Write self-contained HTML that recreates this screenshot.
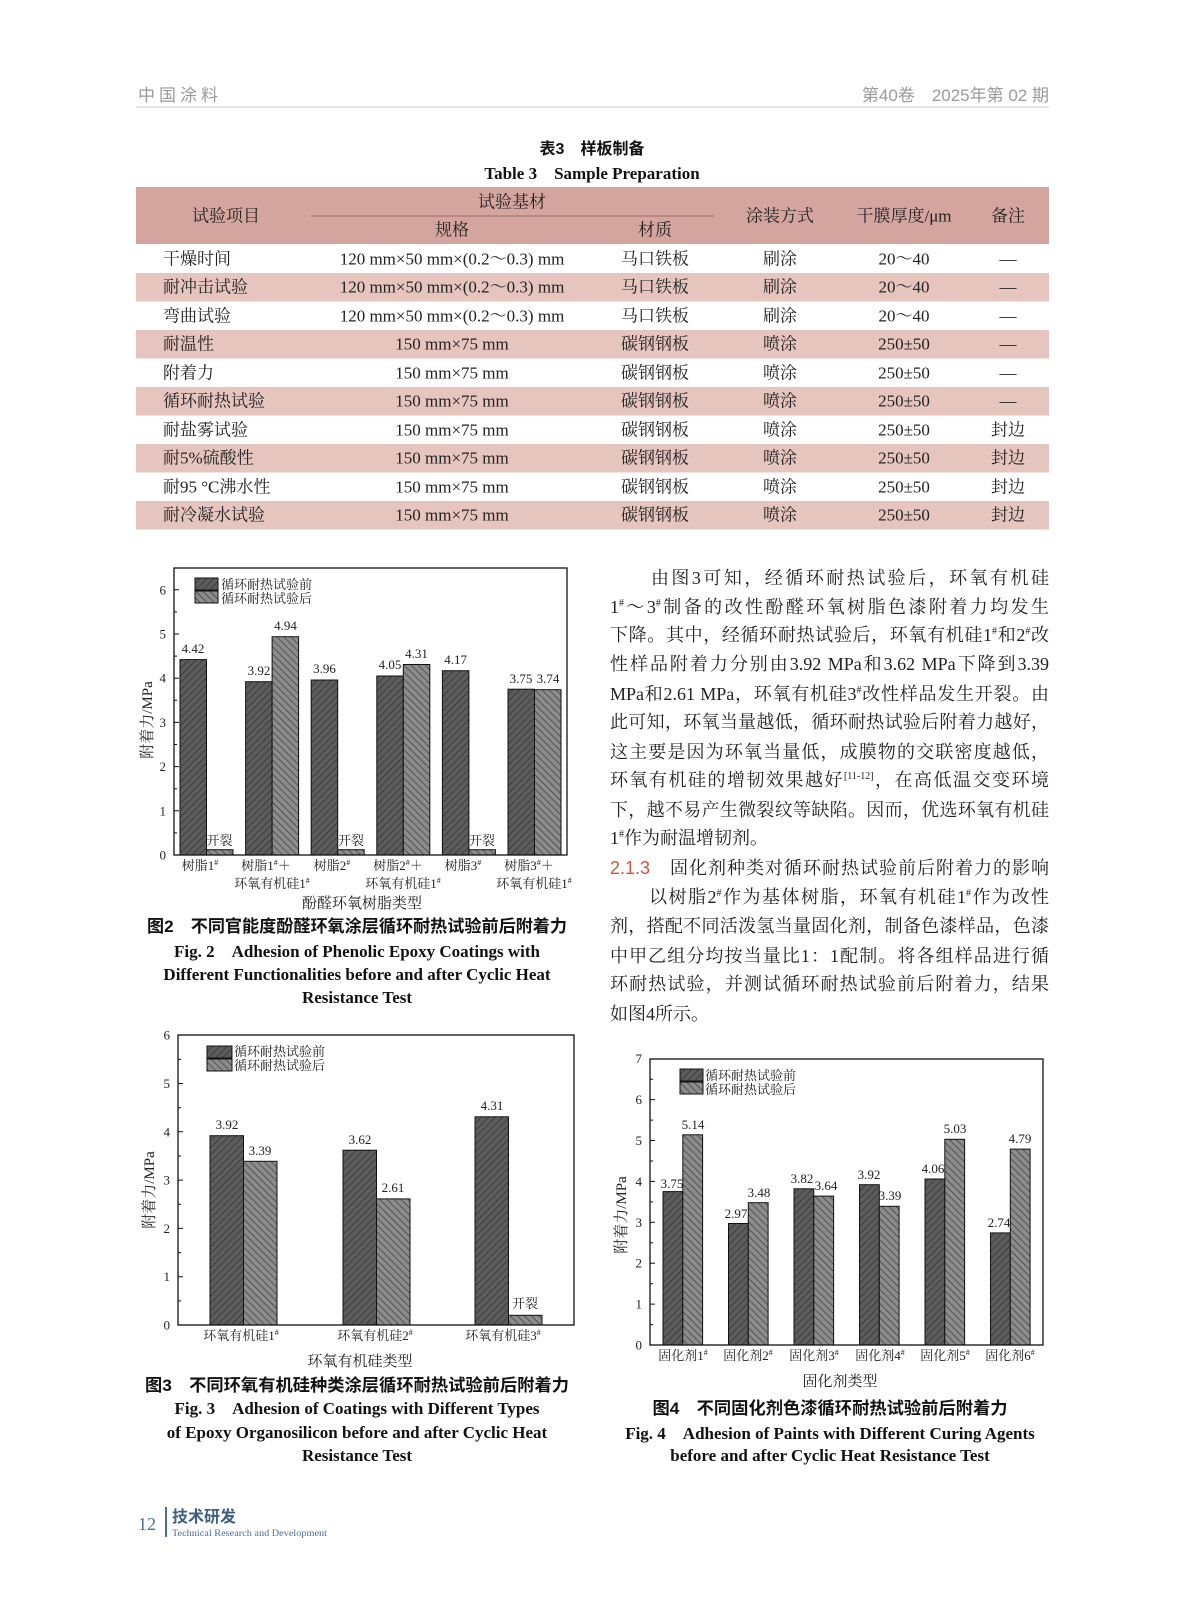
<!DOCTYPE html>
<html><head><meta charset="utf-8">
<style>
body{margin:0;background:#fff;}
#pg{position:relative;width:1187px;height:1600px;overflow:hidden;background:#fff;}
svg{position:absolute;left:0;top:0;}
.ln{position:absolute;left:610px;width:439px;height:29px;line-height:29px;font-family:"Liberation Serif","Noto Serif CJK SC",serif;font-size:18px;color:#222;text-align:justify;text-align-last:justify;white-space:nowrap;}
.ln.nj{text-align-last:left;}
.ln sup{font-size:10px;line-height:0;vertical-align:7px;}
</style></head><body><div id="pg">
<svg width="1187" height="1600" viewBox="0 0 1187 1600" font-family="Liberation Serif, Noto Serif CJK SC, serif">
<defs>
<pattern id="pb" width="5" height="5" patternUnits="userSpaceOnUse" patternTransform="rotate(45)"><rect width="5" height="5" fill="#5c5c5c"/><line x1="0" y1="0" x2="0" y2="5" stroke="#303030" stroke-width="1.4"/></pattern>
<pattern id="pa" width="5" height="5" patternUnits="userSpaceOnUse" patternTransform="rotate(-45)"><rect width="5" height="5" fill="#8c8c8c"/><line x1="0" y1="0" x2="0" y2="5" stroke="#3c3c3c" stroke-width="1.4"/></pattern>
</defs>
<!-- header -->
<text x="138" y="101" font-family="Liberation Sans, Noto Sans CJK SC, sans-serif" font-size="17" fill="#9a9a9a" letter-spacing="4">中国涂料</text>
<text x="1049" y="101" text-anchor="end" font-family="Liberation Sans, Noto Sans CJK SC, sans-serif" font-size="17" fill="#9a9a9a">第40卷　2025年第 02 期</text>
<line x1="136" y1="107" x2="1049" y2="107" stroke="#ccc" stroke-width="1"/>
<!-- table -->
<text x="592" y="154" text-anchor="middle" font-family="Liberation Sans, Noto Sans CJK SC, sans-serif" font-weight="bold" font-size="16" fill="#111">表3　样板制备</text>
<text x="592" y="179" text-anchor="middle" font-weight="bold" font-size="17" fill="#111">Table 3　Sample Preparation</text>
<rect x="136" y="187" width="913" height="57" fill="#d4a59e"/>
<rect x="136" y="273" width="913" height="28.5" fill="#e7c5bf"/>
<rect x="136" y="330" width="913" height="28.5" fill="#e7c5bf"/>
<rect x="136" y="387" width="913" height="28.5" fill="#e7c5bf"/>
<rect x="136" y="444" width="913" height="28.5" fill="#e7c5bf"/>
<rect x="136" y="501" width="913" height="28.5" fill="#e7c5bf"/>
<line x1="311" y1="216" x2="714" y2="216" stroke="#8a5a55" stroke-width="0.8"/>
<g font-size="17" fill="#222" text-anchor="middle" dominant-baseline="central">
<text x="226" y="216">试验项目</text><text x="512" y="202">试验基材</text>
<text x="452" y="230">规格</text><text x="655" y="230">材质</text>
<text x="780" y="216">涂装方式</text><text x="904" y="216">干膜厚度/μm</text><text x="1008" y="216">备注</text>
</g>
<g font-size="17" fill="#222" dominant-baseline="central">
<g text-anchor="start">
<text x="163" y="259">干燥时间</text><text x="163" y="287">耐冲击试验</text><text x="163" y="316">弯曲试验</text><text x="163" y="344">耐温性</text><text x="163" y="373">附着力</text><text x="163" y="401">循环耐热试验</text><text x="163" y="430">耐盐雾试验</text><text x="163" y="458">耐5%硫酸性</text><text x="163" y="487">耐95 °C沸水性</text><text x="163" y="515">耐冷凝水试验</text>
</g>
<g text-anchor="middle">
<text x="452" y="259">120 mm×50 mm×(0.2～0.3) mm</text><text x="452" y="287">120 mm×50 mm×(0.2～0.3) mm</text><text x="452" y="316">120 mm×50 mm×(0.2～0.3) mm</text>
<text x="452" y="344">150 mm×75 mm</text><text x="452" y="373">150 mm×75 mm</text><text x="452" y="401">150 mm×75 mm</text><text x="452" y="430">150 mm×75 mm</text><text x="452" y="458">150 mm×75 mm</text><text x="452" y="487">150 mm×75 mm</text><text x="452" y="515">150 mm×75 mm</text>
<text x="655" y="259">马口铁板</text><text x="655" y="287">马口铁板</text><text x="655" y="316">马口铁板</text><text x="655" y="344">碳钢钢板</text><text x="655" y="373">碳钢钢板</text><text x="655" y="401">碳钢钢板</text><text x="655" y="430">碳钢钢板</text><text x="655" y="458">碳钢钢板</text><text x="655" y="487">碳钢钢板</text><text x="655" y="515">碳钢钢板</text>
<text x="780" y="259">刷涂</text><text x="780" y="287">刷涂</text><text x="780" y="316">刷涂</text><text x="780" y="344">喷涂</text><text x="780" y="373">喷涂</text><text x="780" y="401">喷涂</text><text x="780" y="430">喷涂</text><text x="780" y="458">喷涂</text><text x="780" y="487">喷涂</text><text x="780" y="515">喷涂</text>
<text x="904" y="259">20～40</text><text x="904" y="287">20～40</text><text x="904" y="316">20～40</text><text x="904" y="344">250±50</text><text x="904" y="373">250±50</text><text x="904" y="401">250±50</text><text x="904" y="430">250±50</text><text x="904" y="458">250±50</text><text x="904" y="487">250±50</text><text x="904" y="515">250±50</text>
<text x="1008" y="259">—</text><text x="1008" y="287">—</text><text x="1008" y="316">—</text><text x="1008" y="344">—</text><text x="1008" y="373">—</text><text x="1008" y="401">—</text><text x="1008" y="430">封边</text><text x="1008" y="458">封边</text><text x="1008" y="487">封边</text><text x="1008" y="515">封边</text>
</g></g>

<!-- FIG 2 -->
<g stroke="#111" stroke-width="1">
<rect x="180" y="659.6" width="26.5" height="195.4" fill="url(#pb)"/><rect x="206.5" y="849.7" width="26.5" height="5.3" fill="url(#pa)"/>
<rect x="245.6" y="681.7" width="26.5" height="173.3" fill="url(#pb)"/><rect x="272.1" y="636.7" width="26.5" height="218.3" fill="url(#pa)"/>
<rect x="311.2" y="680" width="26.5" height="175" fill="url(#pb)"/><rect x="337.7" y="849.7" width="26.5" height="5.3" fill="url(#pa)"/>
<rect x="376.8" y="676" width="26.5" height="179" fill="url(#pb)"/><rect x="403.3" y="664.5" width="26.5" height="190.5" fill="url(#pa)"/>
<rect x="442.4" y="670.7" width="26.5" height="184.3" fill="url(#pb)"/><rect x="468.9" y="849.7" width="26.5" height="5.3" fill="url(#pa)"/>
<rect x="508" y="689.2" width="26.5" height="165.8" fill="url(#pb)"/><rect x="534.5" y="689.7" width="26.5" height="165.3" fill="url(#pa)"/>
<rect x="174" y="568" width="393" height="287" fill="none" stroke-width="1.3"/>
<rect x="195" y="578" width="23" height="12" fill="url(#pb)"/><rect x="195" y="591" width="23" height="12" fill="url(#pa)"/>
<path d="M174 855h5M174 810.8h5M174 766.6h5M174 722.4h5M174 678.2h5M174 634h5M174 589.8h5M174 832.9h3M174 788.7h3M174 744.5h3M174 700.3h3M174 656.1h3M174 611.9h3"/>
</g>
<g font-size="13" fill="#222" text-anchor="end" dominant-baseline="central">
<text x="166" y="855">0</text><text x="166" y="810.8">1</text><text x="166" y="766.6">2</text><text x="166" y="722.4">3</text><text x="166" y="678.2">4</text><text x="166" y="634">5</text><text x="166" y="589.8">6</text>
</g>
<g font-size="13" fill="#222" text-anchor="middle">
<text x="193" y="653">4.42</text><text x="219.5" y="845">开裂</text>
<text x="259" y="675">3.92</text><text x="285.5" y="630">4.94</text>
<text x="324.5" y="673">3.96</text><text x="351" y="845">开裂</text>
<text x="390" y="669">4.05</text><text x="416.5" y="658">4.31</text>
<text x="455.6" y="664">4.17</text><text x="482" y="845">开裂</text>
<text x="521" y="683">3.75</text><text x="548" y="683">3.74</text>
</g>
<g font-size="13" fill="#222"><text x="221" y="589">循环耐热试验前</text><text x="221" y="603">循环耐热试验后</text></g>
<g font-size="13" fill="#222" text-anchor="middle">
<text x="200" y="870">树脂1<tspan font-size="8" dy="-5">#</tspan></text>
<text x="266" y="870">树脂1<tspan font-size="8" dy="-5">#</tspan><tspan dy="5">＋</tspan></text><text x="272" y="888">环氧有机硅1<tspan font-size="8" dy="-5">#</tspan></text>
<text x="332" y="870">树脂2<tspan font-size="8" dy="-5">#</tspan></text>
<text x="398" y="870">树脂2<tspan font-size="8" dy="-5">#</tspan><tspan dy="5">＋</tspan></text><text x="403" y="888">环氧有机硅1<tspan font-size="8" dy="-5">#</tspan></text>
<text x="463" y="870">树脂3<tspan font-size="8" dy="-5">#</tspan></text>
<text x="529" y="870">树脂3<tspan font-size="8" dy="-5">#</tspan><tspan dy="5">＋</tspan></text><text x="534" y="888">环氧有机硅1<tspan font-size="8" dy="-5">#</tspan></text>
<text x="362" y="908" font-size="15">酚醛环氧树脂类型</text>
</g>
<text transform="translate(152,720) rotate(-90)" text-anchor="middle" font-size="15" fill="#222">附着力/MPa</text>
<g text-anchor="middle" font-weight="bold" fill="#111">
<text x="357" y="932" font-size="17" font-family="Liberation Sans, Noto Sans CJK SC, sans-serif" textLength="420" lengthAdjust="spacingAndGlyphs">图2　不同官能度酚醛环氧涂层循环耐热试验前后附着力</text>
<text x="357" y="957" font-size="17">Fig. 2　Adhesion of Phenolic Epoxy Coatings with</text>
<text x="357" y="980" font-size="17">Different Functionalities before and after Cyclic Heat</text>
<text x="357" y="1003" font-size="17">Resistance Test</text>
</g>

<!-- FIG 3 -->
<g stroke="#111" stroke-width="1">
<rect x="210" y="1135.7" width="33.5" height="189.3" fill="url(#pb)"/><rect x="243.5" y="1161.3" width="33.5" height="163.7" fill="url(#pa)"/>
<rect x="343" y="1150.2" width="33.5" height="174.8" fill="url(#pb)"/><rect x="376.5" y="1198.9" width="33.5" height="126.1" fill="url(#pa)"/>
<rect x="475" y="1116.8" width="33.5" height="208.2" fill="url(#pb)"/><rect x="508.5" y="1315.3" width="33.5" height="9.7" fill="url(#pa)"/>
<rect x="178" y="1035" width="396" height="290" fill="none" stroke-width="1.3"/>
<rect x="207" y="1046" width="25" height="12" fill="url(#pb)"/><rect x="207" y="1059" width="25" height="12" fill="url(#pa)"/>
<path d="M178 1325h5M178 1276.7h5M178 1228.4h5M178 1180.1h5M178 1131.8h5M178 1083.5h5M178 1300.9h3M178 1252.6h3M178 1204.3h3M178 1156h3M178 1107.7h3M178 1059.4h3"/>
</g>
<g font-size="13" fill="#222" text-anchor="end" dominant-baseline="central">
<text x="170" y="1325">0</text><text x="170" y="1276.7">1</text><text x="170" y="1228.4">2</text><text x="170" y="1180.1">3</text><text x="170" y="1131.8">4</text><text x="170" y="1083.5">5</text><text x="170" y="1035">6</text>
</g>
<g font-size="13" fill="#222" text-anchor="middle">
<text x="227" y="1129">3.92</text><text x="260" y="1155">3.39</text>
<text x="360" y="1144">3.62</text><text x="393" y="1192">2.61</text>
<text x="492" y="1110">4.31</text><text x="525" y="1308">开裂</text>
</g>
<g font-size="13" fill="#222"><text x="234" y="1056">循环耐热试验前</text><text x="234" y="1070">循环耐热试验后</text></g>
<g font-size="13" fill="#222" text-anchor="middle">
<text x="241" y="1340">环氧有机硅1<tspan font-size="8" dy="-5">#</tspan></text>
<text x="375" y="1340">环氧有机硅2<tspan font-size="8" dy="-5">#</tspan></text>
<text x="503" y="1340">环氧有机硅3<tspan font-size="8" dy="-5">#</tspan></text>
<text x="360" y="1366" font-size="15">环氧有机硅类型</text>
</g>
<text transform="translate(154,1190) rotate(-90)" text-anchor="middle" font-size="15" fill="#222">附着力/MPa</text>
<g text-anchor="middle" font-weight="bold" fill="#111">
<text x="357" y="1391" font-size="17" font-family="Liberation Sans, Noto Sans CJK SC, sans-serif" textLength="424" lengthAdjust="spacingAndGlyphs">图3　不同环氧有机硅种类涂层循环耐热试验前后附着力</text>
<text x="357" y="1414" font-size="17">Fig. 3　Adhesion of Coatings with Different Types</text>
<text x="357" y="1438" font-size="17">of Epoxy Organosilicon before and after Cyclic Heat</text>
<text x="357" y="1461" font-size="17">Resistance Test</text>
</g>

<!-- FIG 4 -->
<g stroke="#111" stroke-width="1">
<rect x="663" y="1191.6" width="19.8" height="153.4" fill="url(#pb)"/><rect x="682.8" y="1134.8" width="19.8" height="210.2" fill="url(#pa)"/>
<rect x="728.5" y="1223.5" width="19.8" height="121.5" fill="url(#pb)"/><rect x="748.3" y="1202.7" width="19.8" height="142.3" fill="url(#pa)"/>
<rect x="794" y="1188.8" width="19.8" height="156.2" fill="url(#pb)"/><rect x="813.8" y="1196.1" width="19.8" height="148.9" fill="url(#pa)"/>
<rect x="859.5" y="1184.7" width="19.8" height="160.3" fill="url(#pb)"/><rect x="879.3" y="1206.3" width="19.8" height="138.7" fill="url(#pa)"/>
<rect x="925" y="1179" width="19.8" height="166" fill="url(#pb)"/><rect x="944.8" y="1139.3" width="19.8" height="205.7" fill="url(#pa)"/>
<rect x="990.5" y="1232.9" width="19.8" height="112.1" fill="url(#pb)"/><rect x="1010.3" y="1149.1" width="19.8" height="195.9" fill="url(#pa)"/>
<rect x="650" y="1059" width="393" height="286" fill="none" stroke-width="1.3"/>
<rect x="680" y="1069" width="23" height="12" fill="url(#pb)"/><rect x="680" y="1082" width="23" height="12" fill="url(#pa)"/>
<path d="M650 1345h5M650 1304.1h5M650 1263.2h5M650 1222.3h5M650 1181.4h5M650 1140.5h5M650 1099.6h5M650 1324.6h3M650 1283.7h3M650 1242.8h3M650 1201.9h3M650 1161h3M650 1120.1h3M650 1079.2h3"/>
</g>
<g font-size="13" fill="#222" text-anchor="end" dominant-baseline="central">
<text x="642" y="1345">0</text><text x="642" y="1304.1">1</text><text x="642" y="1263.2">2</text><text x="642" y="1222.3">3</text><text x="642" y="1181.4">4</text><text x="642" y="1140.5">5</text><text x="642" y="1099.6">6</text><text x="642" y="1058.7">7</text>
</g>
<g font-size="13" fill="#222" text-anchor="middle">
<text x="672" y="1188">3.75</text><text x="693" y="1129">5.14</text>
<text x="736" y="1218">2.97</text><text x="759" y="1197">3.48</text>
<text x="802" y="1183">3.82</text><text x="826" y="1190">3.64</text>
<text x="869" y="1179">3.92</text><text x="890" y="1200">3.39</text>
<text x="933" y="1173">4.06</text><text x="955" y="1133">5.03</text>
<text x="999" y="1227">2.74</text><text x="1020" y="1143">4.79</text>
</g>
<g font-size="13" fill="#222"><text x="705" y="1080">循环耐热试验前</text><text x="705" y="1094">循环耐热试验后</text></g>
<g font-size="13" fill="#222" text-anchor="middle">
<text x="683" y="1360">固化剂1<tspan font-size="8" dy="-5">#</tspan></text>
<text x="748" y="1360">固化剂2<tspan font-size="8" dy="-5">#</tspan></text>
<text x="814" y="1360">固化剂3<tspan font-size="8" dy="-5">#</tspan></text>
<text x="880" y="1360">固化剂4<tspan font-size="8" dy="-5">#</tspan></text>
<text x="945" y="1360">固化剂5<tspan font-size="8" dy="-5">#</tspan></text>
<text x="1010" y="1360">固化剂6<tspan font-size="8" dy="-5">#</tspan></text>
<text x="840" y="1386" font-size="15">固化剂类型</text>
</g>
<text transform="translate(626,1215) rotate(-90)" text-anchor="middle" font-size="15" fill="#222">附着力/MPa</text>
<g text-anchor="middle" font-weight="bold" fill="#111">
<text x="830" y="1414" font-size="17" font-family="Liberation Sans, Noto Sans CJK SC, sans-serif" textLength="355" lengthAdjust="spacingAndGlyphs">图4　不同固化剂色漆循环耐热试验前后附着力</text>
<text x="830" y="1439" font-size="17">Fig. 4　Adhesion of Paints with Different Curing Agents</text>
<text x="830" y="1461" font-size="17">before and after Cyclic Heat Resistance Test</text>
</g>

<!-- footer -->
<text x="138" y="1530" font-size="18" fill="#4a6f95">12</text>
<line x1="166" y1="1507" x2="166" y2="1537" stroke="#4a6f95" stroke-width="2"/>
<text x="172" y="1522" font-family="Liberation Sans, Noto Sans CJK SC, sans-serif" font-weight="bold" font-size="16" fill="#3d5f82">技术研发</text>
<text x="172" y="1536" font-size="9.5" fill="#4a6f95" textLength="155" lengthAdjust="spacingAndGlyphs">Technical Research and Development</text>
</svg>

<div class="ln" style="top:564px">　　由图3可知，经循环耐热试验后，环氧有机硅</div>
<div class="ln" style="top:593px">1<sup>#</sup>～3<sup>#</sup>制备的改性酚醛环氧树脂色漆附着力均发生</div>
<div class="ln" style="top:621px">下降。其中，经循环耐热试验后，环氧有机硅1<sup>#</sup>和2<sup>#</sup>改</div>
<div class="ln" style="top:650px">性样品附着力分别由3.92 MPa和3.62 MPa下降到3.39</div>
<div class="ln" style="top:680px">MPa和2.61 MPa，环氧有机硅3<sup>#</sup>改性样品发生开裂。由</div>
<div class="ln" style="top:708px">此可知，环氧当量越低，循环耐热试验后附着力越好，</div>
<div class="ln" style="top:738px">这主要是因为环氧当量低，成膜物的交联密度越低，</div>
<div class="ln" style="top:766px">环氧有机硅的增韧效果越好<sup>[11-12]</sup>，在高低温交变环境</div>
<div class="ln" style="top:796px">下，越不易产生微裂纹等缺陷。因而，优选环氧有机硅</div>
<div class="ln nj" style="top:824px">1<sup>#</sup>作为耐温增韧剂。</div>
<div class="ln" style="top:854px"><span style="color:#d2553a;font-family:'Liberation Sans',sans-serif">2.1.3</span>　固化剂种类对循环耐热试验前后附着力的影响</div>
<div class="ln" style="top:883px">　　以树脂2<sup>#</sup>作为基体树脂，环氧有机硅1<sup>#</sup>作为改性</div>
<div class="ln" style="top:912px">剂，搭配不同活泼氢当量固化剂，制备色漆样品，色漆</div>
<div class="ln" style="top:942px">中甲乙组分均按当量比1：1配制。将各组样品进行循</div>
<div class="ln" style="top:970px">环耐热试验，并测试循环耐热试验前后附着力，结果</div>
<div class="ln nj" style="top:1000px">如图4所示。</div>
</div></body></html>
